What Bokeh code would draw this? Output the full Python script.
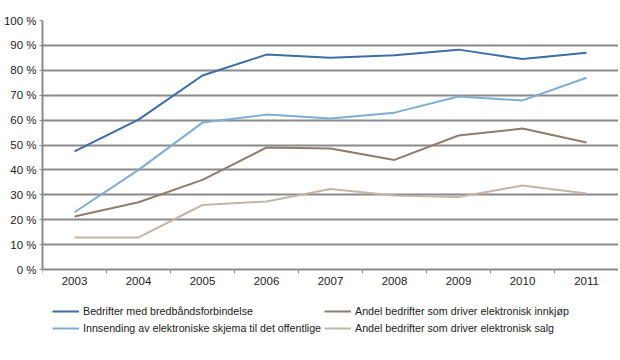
from bokeh.plotting import figure
from bokeh.models import FixedTicker, PrintfTickFormatter, Legend, LegendItem, Range1d
from bokeh.embed import file_html
from bokeh.resources import INLINE

years = ["2003", "2004", "2005", "2006", "2007", "2008", "2009", "2010", "2011"]
bredband = [47.4, 60.2, 77.9, 86.3, 85.0, 86.0, 88.3, 84.5, 87.0]
innsending = [23.0, 40.0, 59.0, 62.2, 60.6, 63.0, 69.5, 67.9, 77.0]
innkjop = [21.3, 27.0, 36.0, 49.0, 48.6, 44.0, 53.8, 56.6, 51.0]
salg = [12.9, 12.9, 25.9, 27.3, 32.3, 29.7, 29.1, 33.7, 30.5]

names = [
    "Bedrifter med bredbåndsforbindelse",
    "Innsending av elektroniske skjema til det offentlige",
    "Andel bedrifter som driver elektronisk innkjøp",
    "Andel bedrifter som driver elektronisk salg",
]
colors = ["#3d6ca6", "#7eadd6", "#8f7d6b", "#c3b5a7"]
series = [bredband, innsending, innkjop, salg]

FONT = "Liberation Sans"
xs = [i + 0.5 for i in range(len(years))]

# frame extends below 0 % to make room for the legend (legend drawn inside frame)
FRAME_H = 316
PX_PER_UNIT = 249 / 100.0
y_start = -(FRAME_H - 249) / PX_PER_UNIT

p = figure(frame_width=576, frame_height=FRAME_H, output_backend="svg", toolbar_location=None,
           x_range=Range1d(0, len(years)), y_range=Range1d(y_start, 100),
           min_border_left=40, min_border_right=0, min_border_top=20, min_border_bottom=0)
p.outline_line_color = None
p.background_fill_color = "white"

renderers = []
for vals, c in zip(series, colors):
    r = p.line(xs, vals, line_color=c, line_width=2)
    renderers.append(r)

# x axis, placed at 0 %
p.xaxis.fixed_location = 0
p.xaxis.ticker = FixedTicker(ticks=xs, minor_ticks=list(range(len(years) + 1)))
p.xaxis.major_label_overrides = {x: y for x, y in zip(xs, years)}
p.xaxis.major_tick_line_color = None
p.xaxis.major_tick_out = 4
p.xaxis.minor_tick_line_color = "#8a8a8a"
p.xaxis.minor_tick_out = 4
p.xaxis.minor_tick_in = 0
p.xaxis.axis_line_color = "#8a8a8a"
p.xaxis.axis_line_width = 2
p.xaxis.major_label_text_font = FONT
p.xaxis.major_label_text_font_size = "11.5px"
p.xaxis.major_label_text_color = "#222222"
p.xaxis.major_label_standoff = 3

# y axis
p.yaxis.bounds = (0, 100)
p.yaxis.ticker = FixedTicker(ticks=list(range(0, 101, 10)), minor_ticks=[])
p.yaxis.formatter = PrintfTickFormatter(format="%d %%")
p.yaxis.major_tick_line_color = "#8a8a8a"
p.yaxis.major_tick_out = 3
p.yaxis.major_tick_in = 0
p.yaxis.axis_line_color = "#8a8a8a"
p.yaxis.axis_line_width = 2
p.yaxis.major_label_text_font = FONT
p.yaxis.major_label_text_font_size = "11.5px"
p.yaxis.major_label_text_color = "#222222"
p.yaxis.major_label_standoff = 3

p.xgrid.grid_line_color = None
p.ygrid.ticker = FixedTicker(ticks=list(range(10, 101, 10)))
p.ygrid.grid_line_color = "#8a8a8a"
p.ygrid.grid_line_width = 2

items = [LegendItem(label=n, renderers=[r]) for n, r in zip(names, renderers)]
legend = Legend(items=items, ncols=2, location=(10, 1),
                label_text_font=FONT, label_text_font_size="10.7px", label_text_color="#222222",
                glyph_width=27, glyph_height=14, label_standoff=4, spacing=3,
                label_height=14, padding=0, margin=0, border_line_color=None,
                background_fill_alpha=0)
p.add_layout(legend, "center")

open("out.html", "w").write(file_html(p, INLINE))
